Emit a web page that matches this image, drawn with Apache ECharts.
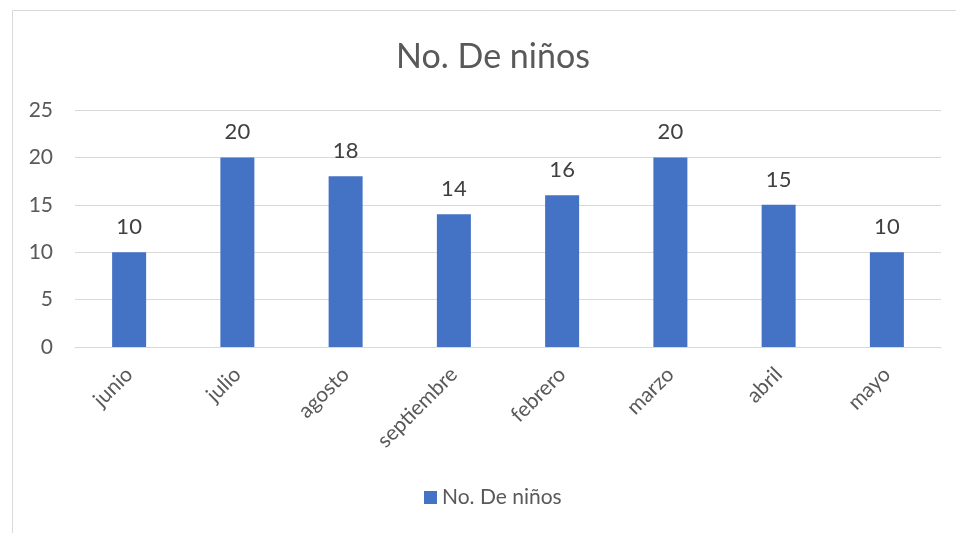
<!DOCTYPE html>
<html>
<head>
<meta charset="utf-8">
<script src="https://cdn.jsdelivr.net/npm/echarts@6/dist/echarts.min.js"></script>
<style>
html,body{margin:0;padding:0;background:#fff;}
#c{width:956px;height:533px;}
</style>
</head>
<body>
<div id="c"></div>
<script>
const categories = ['junio','julio','agosto','septiembre','febrero','marzo','abril','mayo'];
const values = [10, 20, 18, 14, 16, 20, 15, 10];
const seriesName = 'No. De niños';
const titleText = 'No. De niños';

const chart = echarts.init(document.getElementById('c'));
const font = 'Lato, "Liberation Sans", sans-serif';
chart.setOption({
  animation: false,
  textStyle: { fontFamily: font },
  graphic: [{
    type: 'rect',
    shape: { x: 12.5, y: 10.5, width: 1000, height: 600 },
    style: { fill: 'none', stroke: '#d9d9d9', lineWidth: 1 },
    silent: true
  }],
  title: {
    text: titleText,
    left: 488, textAlign: 'center',
    top: 35,
    textStyle: { fontSize: 34, fontWeight: 'normal', color: '#595959', fontFamily: font }
  },
  legend: {
    data: [seriesName],
    bottom: 20,
    left: 419,
    itemWidth: 13, itemHeight: 13,
    icon: 'rect',
    itemGap: 6,
    textStyle: { fontSize: 21, color: '#595959', fontFamily: font }
  },
  grid: { left: 75, right: 15, top: 110, bottom: 186 },
  xAxis: {
    type: 'category',
    data: categories,
    axisLine: { lineStyle: { color: '#d9d9d9', width: 1 } },
    axisTick: { show: false },
    axisLabel: { rotate: 45, fontSize: 21, color: '#595959', margin: 24, fontFamily: font }
  },
  yAxis: {
    type: 'value',
    min: 0, max: 25, interval: 5,
    axisLine: { show: false },
    axisTick: { show: false },
    splitLine: { lineStyle: { color: '#d9d9d9', width: 1 } },
    axisLabel: { fontSize: 21, color: '#595959', margin: 22, fontFamily: font }
  },
  series: [{
    name: seriesName,
    type: 'bar',
    data: values,
    barWidth: 34,
    itemStyle: { color: '#4472C4' },
    label: { show: true, position: 'top', distance: 14, fontSize: 22, color: '#404040', fontFamily: font }
  }]
});
</script>
</body>
</html>
